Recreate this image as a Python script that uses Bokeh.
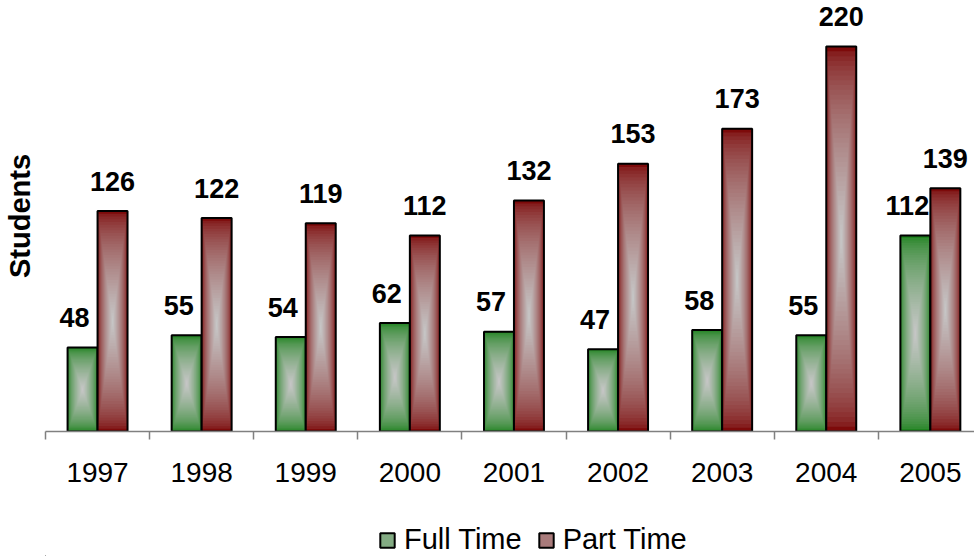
from bokeh.plotting import figure
from bokeh.layouts import column
from bokeh.models import ColumnDataSource, FixedTicker, Legend, LegendItem, Range1d
from bokeh.transform import dodge
from bokeh.embed import file_html
from bokeh.resources import INLINE
from bokeh.core.properties import value

# ---- data ----
years = ["1997", "1998", "1999", "2000", "2001", "2002", "2003", "2004", "2005"]
full_time = [48, 55, 54, 62, 57, 47, 58, 55, 112]
part_time = [126, 122, 119, 112, 132, 153, 173, 220, 139]
series_names = ["Full Time", "Part Time"]

# ---- style ----
FONT = "Liberation Sans"
EDGE = {"Full Time": (30, 130, 30), "Part Time": (125, 10, 10)}
CENTER = (198, 198, 198)
N = 40
BW = 0.288

def lerp(c1, c2, t):
    return "#%02x%02x%02x" % tuple(int(round(a + (b - a) * t)) for a, b in zip(c1, c2))

xi = list(range(len(years)))

p = figure(width=974, height=500,
           x_range=Range1d(-0.5, 8.424), y_range=Range1d(0, 246.3),
           output_backend="svg", toolbar_location=None,
           min_border_left=45, min_border_right=0, min_border_top=0, min_border_bottom=69)
p.outline_line_color = None
p.xgrid.visible = False
p.ygrid.visible = False

for name, vals, off, lab_dx in [("Full Time", full_time, -BW / 2, -8),
                                ("Part Time", part_time, BW / 2, 0)]:
    data = dict(x=xi, v=vals, label=[str(v) for v in vals])
    for k in range(N):
        s = 1 - k / N
        data[f"b{k}"] = [v / 2 * (1 - s) for v in vals]
        data[f"t{k}"] = [v / 2 * (1 + s) for v in vals]
    src = ColumnDataSource(data)
    xs = dodge("x", off, range=p.x_range)
    for k in range(N):
        s = 1 - k / N
        t = (k / (N - 1)) ** 0.6
        p.vbar(x=xs, width=BW * s, bottom=f"b{k}", top=f"t{k}", source=src,
               fill_color=lerp(EDGE[name], CENTER, t), line_color=None)
    p.vbar(x=xs, width=BW, bottom=0, top="v", source=src,
           fill_color=None, line_color="black", line_width=2)
    p.text(x=xs, y="v", text="label", source=src, text_align="center",
           text_baseline="alphabetic", x_offset=lab_dx, y_offset=-30,
           text_font=value(FONT), text_font_style="bold", text_font_size="27px",
           text_color="black")

# x axis
xa = p.xaxis[0]
xa.ticker = FixedTicker(ticks=xi, minor_ticks=[i - 0.5 for i in range(len(years) + 1)])
xa.major_label_overrides = {i: y for i, y in enumerate(years)}
xa.major_tick_in = 0
xa.major_tick_out = 0
xa.minor_tick_in = 0
xa.minor_tick_out = 8
xa.minor_tick_line_color = "#808080"
xa.minor_tick_line_width = 1.5
xa.axis_line_color = "#808080"
xa.axis_line_width = 1.5
xa.major_label_standoff = 23
xa.major_label_text_font = FONT
xa.major_label_text_font_size = "28px"
xa.major_label_text_color = "black"

# y axis: only its title
ya = p.yaxis[0]
ya.ticker = FixedTicker(ticks=[])
ya.axis_line_color = None
ya.major_tick_line_color = None
ya.minor_tick_line_color = None
ya.axis_label = "Students"
ya.axis_label_text_font = FONT
ya.axis_label_text_font_style = "bold"
ya.axis_label_text_font_size = "29px"
ya.axis_label_text_color = "black"
ya.axis_label_standoff = 10

# legend strip
pl = figure(width=974, height=56, x_range=Range1d(0, 1), y_range=Range1d(0, 1),
            output_backend="svg", toolbar_location=None,
            x_axis_location=None, y_axis_location=None,
            min_border_left=0, min_border_right=0, min_border_top=0, min_border_bottom=0)
pl.outline_line_color = None
pl.xgrid.visible = False
pl.ygrid.visible = False
items = []
for name in series_names:
    # legend-only swatch renderer, kept outside the visible range
    r = pl.vbar(x=[-5], top=[-5], bottom=[-6], width=0.1,
                fill_color=lerp(EDGE[name], CENTER, 0.6),
                line_color="black", line_width=2)
    items.append(LegendItem(label=name, renderers=[r]))
legend = Legend(items=items, orientation="horizontal", location=(333, 0),
                padding=0, spacing=15, margin=0, glyph_width=18, glyph_height=18,
                label_standoff=8, label_text_font=FONT, label_text_font_size="29px",
                label_text_color="black",
                border_line_color=None, background_fill_alpha=0)
pl.add_layout(legend, "center")

open("out.html", "w").write(file_html(column(p, pl), INLINE))
